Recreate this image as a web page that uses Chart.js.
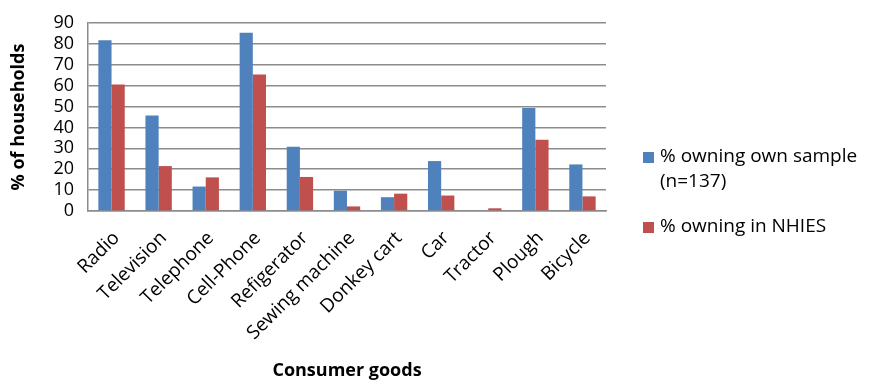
<!DOCTYPE html>
<html>
<head>
<meta charset="utf-8">
<script src="https://cdn.jsdelivr.net/npm/chart.js@4"></script>
<style>
  html, body { margin: 0; padding: 0; background: #fff; }
  #wrap { width: 869px; height: 385px; position: relative; }
</style>
</head>
<body>
<div id="wrap"><canvas id="goodsChart"></canvas></div>
<script>
const goods = ['Radio', 'Television', 'Telephone', 'Cell-Phone', 'Refigerator', 'Sewing machine',
  'Donkey cart', 'Car', 'Tractor', 'Plough', 'Bicycle'];
const ownSample = [81.7, 45.7, 11.7, 85.3, 30.8, 9.7, 6.6, 23.9, 0, 49.3, 22.3];
const nhies = [60.6, 21.5, 16.1, 65.4, 16.3, 2.2, 8.3, 7.4, 1.3, 34.1, 7.0];
const legendLines = [['% owning own sample', '(n=137)'], ['% owning in NHIES']];

const font = "'Open Sans', sans-serif";

// legend drawn by hand so the first entry can wrap over two lines
const sideLegend = {
  id: 'sideLegend',
  afterDraw(chart) {
    const c = chart.ctx;
    c.save();
    c.font = '19px ' + font;
    c.textBaseline = 'middle';
    let y = 157;
    chart.data.datasets.forEach((ds, i) => {
      c.fillStyle = ds.backgroundColor;
      c.fillRect(643, y - 5, 11, 11);
      c.fillStyle = '#000';
      legendLines[i].forEach((line, j) => {
        c.fillText(line, 660, y + j * 25);
      });
      y += 70;
    });
    c.restore();
  }
};

const ctx = document.getElementById('goodsChart').getContext('2d');

const goodsChart = new Chart(ctx, {
  type: 'bar',
  data: {
    labels: goods,
    datasets: [{
      label: '% owning own sample (n=137)',
      data: ownSample,
      backgroundColor: '#4f81bd',
      categoryPercentage: 0.56,
      barPercentage: 1.0
    }, {
      label: '% owning in NHIES',
      data: nhies,
      backgroundColor: '#c0504d',
      categoryPercentage: 0.56,
      barPercentage: 1.0
    }]
  },
  options: {
    responsive: true,
    maintainAspectRatio: false,
    animation: false,
    layout: {
      padding: { top: 10, right: 263, left: 0, bottom: 0 }
    },
    plugins: {
      legend: { display: false },
      tooltip: { enabled: false }
    },
    scales: {
      x: {
        grid: { display: false },
        border: { color: '#8c8c8c', width: 1.5 },
        ticks: {
          color: '#000',
          font: { family: font, size: 19 },
          minRotation: 45,
          maxRotation: 45,
          autoSkip: false,
          labelOffset: 5,
          padding: 8
        },
        title: {
          display: true,
          text: 'Consumer goods',
          color: '#000',
          font: { family: font, size: 18, weight: 'bold' },
          padding: { top: 4, bottom: 3 }
        },
        afterFit(scale) { scale.height = 174; }
      },
      y: {
        min: 0,
        max: 90,
        grid: {
          color: '#8c8c8c',
          lineWidth: 1.5,
          drawTicks: false
        },
        border: { color: '#8c8c8c', width: 1.5 },
        ticks: {
          stepSize: 10,
          autoSkip: false,
          color: '#000',
          font: { family: font, size: 18, lineHeight: 1 },
          padding: 14
        },
        title: {
          display: true,
          text: '% of households',
          color: '#000',
          font: { family: font, size: 18, weight: 'bold' },
          padding: { top: 8, bottom: 0 }
        },
        afterFit(scale) { scale.width = 88; }
      }
    }
  },
  plugins: [sideLegend]
});
</script>
</body>
</html>
